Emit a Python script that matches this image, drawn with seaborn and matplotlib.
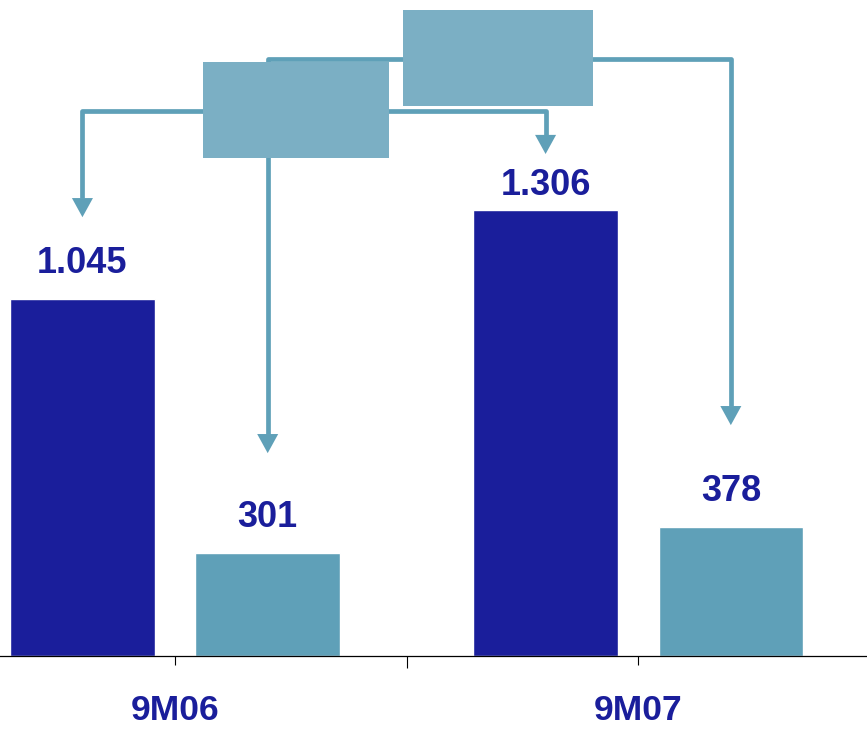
import matplotlib
matplotlib.use('Agg')
import matplotlib.pyplot as plt
from matplotlib.patches import Rectangle, Polygon
import pandas as pd
import seaborn as sns

# datos
periods = ['9M06', '9M07']
series = ['total', 'parcial']
total_vals = [1045, 1306]
parcial_vals = [301, 378]

dark_blue = '#1a1e9b'
teal = '#5fa0b8'
box_color = '#7bafc4'

df = pd.DataFrame({
    'period': periods * 2,
    'serie': [series[0]] * 2 + [series[1]] * 2,
    'value': total_vals + parcial_vals,
})

sns.set_style('white')
plt.rcParams['font.family'] = ['Liberation Sans', 'DejaVu Sans']

fig = plt.figure(figsize=(8.67, 7.3), dpi=100)
ax = fig.add_axes([0, 74 / 730, 1, 656 / 730])

sns.barplot(data=df, x='period', y='value', hue='serie', palette=[dark_blue, teal],
            saturation=1, gap=0.22, width=0.8, legend=False, ax=ax)

# etiquetas de valor (separador de miles con punto)
# la de 1.306 queda algo mas baja para no chocar con la flecha
pads = [[13, 5], [13, 13]]
for cont, pad_row in zip(ax.containers, pads):
    for bar, pad in zip(cont, pad_row):
        v = int(bar.get_height())
        ax.annotate(f'{v:,}'.replace(',', '.'),
                    (bar.get_x() + bar.get_width() / 2, v),
                    xytext=(0, pad), textcoords='offset points',
                    ha='center', va='bottom', fontsize=26, fontweight='bold',
                    color=dark_blue)

ax.set_xlim(-0.378, 1.494)
ax.set_ylim(0, 1921)

# ejes
for s in ['left', 'right', 'top']:
    ax.spines[s].set_visible(False)
ax.spines['bottom'].set_color('black')
ax.spines['bottom'].set_linewidth(0.9)
ax.set_yticks([])
ax.set_xticks([0, 1])
ax.set_xticklabels(periods, fontsize=25.5, fontweight='bold', color=dark_blue)
ax.set_xticks([0.5], minor=True)
ax.tick_params(axis='x', which='major', length=6.5, width=0.8, color='black',
               direction='out', pad=21, bottom=True)
ax.tick_params(axis='x', which='minor', length=8.6, width=0.8, color='black',
               direction='out', bottom=True)
ax.set_xlabel('')
ax.set_ylabel('')

# conectores con flechas (centros de barra)
centers_total = [b.get_x() + b.get_width() / 2 for b in ax.containers[0]]
centers_parcial = [b.get_x() + b.get_width() / 2 for b in ax.containers[1]]

head_w = 0.0227
head_l = 56
lw = 3.4


def connector(xs, y_line, tips):
    x0, x1 = xs
    t0, t1 = tips
    ax.plot([x0, x0, x1, x1], [t0 + head_l, y_line, y_line, t1 + head_l],
            color=teal, lw=lw, solid_joinstyle='round', solid_capstyle='butt', zorder=3)
    for x, t in zip(xs, tips):
        ax.add_patch(Polygon([[x - head_w, t + head_l], [x + head_w, t + head_l], [x, t]],
                             closed=True, color=teal, lw=0, zorder=3))


connector(centers_parcial, 1748, [594, 676])
connector(centers_total, 1596, [1285, 1470])

# cajas
ax.add_patch(Rectangle((0.0605, 1459), 0.4015, 279, color=box_color, lw=0, zorder=4))
ax.add_patch(Rectangle((0.4924, 1611), 0.4104, 282, color=box_color, lw=0, zorder=4))

fig.savefig('out.png', dpi=100)
